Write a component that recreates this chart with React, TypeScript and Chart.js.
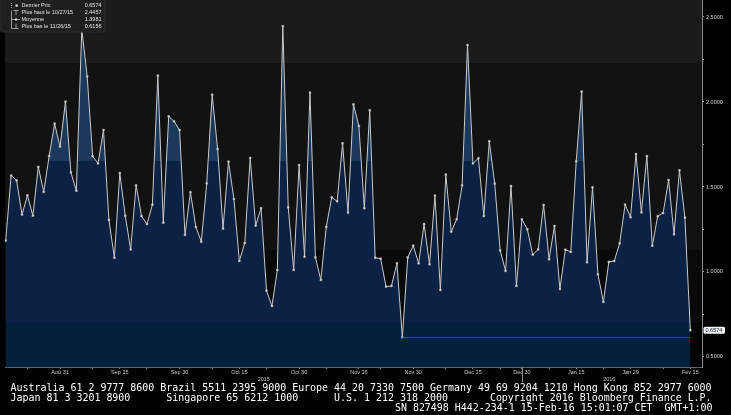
import React, { useEffect, useRef } from 'react';
import { Chart, registerables } from 'chart.js';

Chart.register(...registerables);

// ---------- data ----------
const startDate = '2015-08-17';
const endDate = '2016-02-15';
const holidays = ['2015-12-24', '2015-12-25', '2015-12-31', '2016-01-01'];

const values = [
  1.184, 1.567, 1.539, 1.337, 1.451, 1.331, 1.618, 1.471, 1.682, 1.873,
  1.737, 2.002, 1.586, 1.478, 2.427, 2.151, 1.681, 1.639, 1.835, 1.306,
  1.084, 1.582, 1.331, 1.133, 1.510, 1.328, 1.282, 1.396, 2.155, 1.290,
  1.916, 1.886, 1.835, 1.218, 1.469, 1.265, 1.178, 1.522, 2.043, 1.724,
  1.255, 1.649, 1.429, 1.065, 1.171, 1.671, 1.273, 1.375, 0.890, 0.800,
  1.012, 2.4457, 1.380, 1.012, 1.629, 1.090, 2.055, 1.086, 0.953, 1.265,
  1.439, 1.416, 1.757, 1.349, 1.986, 1.859, 1.375, 1.951, 1.084, 1.078,
  0.914, 0.918, 1.051, 0.6156, 1.086, 1.155, 1.051, 1.282, 1.045, 1.449,
  0.894, 1.573, 1.237, 1.310, 1.510, 2.335, 1.639, 1.669, 1.329, 1.769,
  1.520, 1.127, 1.006, 1.506, 0.918, 1.310, 1.251, 1.102, 1.133, 1.394,
  1.075, 1.271, 0.900, 1.131, 1.118, 1.651, 2.061, 1.057, 1.498, 0.986,
  0.824, 1.059, 1.065, 1.169, 1.396, 1.322, 1.694, 1.351, 1.682, 1.155,
  1.328, 1.347, 1.541, 1.222, 1.598, 1.320, 0.6574,
];

const majorTickDates = [
  '2015-08-31', '2015-09-15', '2015-09-30', '2015-10-15', '2015-10-30', '2015-11-16',
  '2015-11-30', '2015-12-15', '2015-12-30', '2016-01-15', '2016-01-29', '2016-02-15',
];
const majorTickLabels = [
  'Aoû 31', 'Sep 15', 'Sep 30', 'Oct 15', 'Oct 30', 'Nov 16',
  'Nov 30', 'Déc 15', 'Déc 30', 'Jan 15', 'Jan 29', 'Fév 15',
];
const minorTickDates = [
  '2015-08-22', '2015-09-08', '2015-09-22', '2015-10-08', '2015-10-22', '2015-11-08',
  '2015-11-22', '2015-12-08', '2015-12-22', '2016-01-08', '2016-01-22', '2016-02-08',
];
const yearLabels = ['2015', '2016'];
const yearBreakDate = '2015-12-30';

const yTicks = [0.5, 0.75, 1.0, 1.25, 1.5, 1.75, 2.0, 2.25, 2.5];

const legendNames = ['Dernier Prix', 'Plus haut le 10/27/15', 'Moyenne', 'Plus bas le 11/26/15'];
const legendValues = ['0.6574', '2.4457', '1.3981', '0.6156'];

const lowDate = '2015-11-26';
const lowValue = 0.6156;
const lastValue = 0.6574;

const bgBandEdges = [2.231, 1.129, 0.7];
const bgBandColors = ['#1b1b1b', '#121212', '#0a0a0a', '#030303'];
const fillBandEdges = [1.653, 0.7];
const fillBandColors = ['#1b395c', '#0b2244', '#05203a'];

const footerLines = [
  'Australia 61 2 9777 8600 Brazil 5511 2395 9000 Europe 44 20 7330 7500 Germany 49 69 9204 1210 Hong Kong 852 2977 6000',
  'Japan 81 3 3201 8900      Singapore 65 6212 1000      U.S. 1 212 318 2000       Copyright 2016 Bloomberg Finance L.P.',
  'SN 827498 H442-234-1 15-Feb-16 15:01:07 CET  GMT+1:00',
];

// ---------- helpers ----------
function tradingDays(): string[] {
  const out: string[] = [];
  const d = new Date(startDate + 'T00:00:00Z');
  const end = new Date(endDate + 'T00:00:00Z');
  while (d <= end) {
    const wd = d.getUTCDay();
    const iso = d.toISOString().slice(0, 10);
    if (wd !== 0 && wd !== 6 && !holidays.includes(iso)) out.push(iso);
    d.setUTCDate(d.getUTCDate() + 1);
  }
  return out;
}
const dates = tradingDays();
function indexOnOrBefore(iso: string): number {
  let idx = 0;
  dates.forEach((d, i) => {
    if (d <= iso) idx = i;
  });
  return idx;
}

const FONT = "'Liberation Sans', Arial, sans-serif";

export default function App() {
  const canvasRef = useRef<HTMLCanvasElement | null>(null);

  useEffect(() => {
    document.body.style.margin = '0';
    document.body.style.background = '#000';
    const canvas = canvasRef.current;
    if (!canvas) return;

    const majorIdx = majorTickDates.map(indexOnOrBefore);
    const minorIdx = minorTickDates.map(indexOnOrBefore);
    const labelMap = new Map<number, string>();
    majorIdx.forEach((v, i) => labelMap.set(v, majorTickLabels[i]));
    const lowIdx = indexOnOrBefore(lowDate);
    const lastIdx = values.length - 1;
    const breakIdx = indexOnOrBefore(yearBreakDate);

    const points = values.map((v, i) => ({ x: i, y: v }));

    const bandGradient = (chart: any) => {
      const { ctx, chartArea, scales } = chart;
      const g = ctx.createLinearGradient(0, chartArea.top, 0, chartArea.bottom);
      const h = chartArea.bottom - chartArea.top;
      let prev = 0;
      fillBandColors.forEach((c, i) => {
        const next =
          i < fillBandEdges.length
            ? Math.min(1, Math.max(0, (scales.y.getPixelForValue(fillBandEdges[i]) - chartArea.top) / h))
            : 1;
        g.addColorStop(prev, c);
        g.addColorStop(next, c);
        prev = next;
      });
      return g;
    };

    const decorPlugin = {
      id: 'decor',
      beforeDraw(chart: any) {
        const { ctx, chartArea, scales } = chart;
        ctx.save();
        let top = 0;
        bgBandColors.forEach((c, i) => {
          const bottom = i < bgBandEdges.length ? Math.round(scales.y.getPixelForValue(bgBandEdges[i])) : chartArea.bottom;
          ctx.fillStyle = c;
          ctx.fillRect(chartArea.left, top, chartArea.right - chartArea.left, bottom - top);
          top = bottom;
        });
        ctx.restore();
      },
      afterDatasetsDraw(chart: any) {
        const { ctx, scales } = chart;
        const x = scales.x, y = scales.y;
        ctx.save();
        const yl = Math.round(y.getPixelForValue(lowValue)) + 0.5;
        ctx.strokeStyle = '#a41d1d';
        ctx.lineWidth = 1;
        ctx.beginPath();
        ctx.moveTo(x.getPixelForValue(lowIdx), yl);
        ctx.lineTo(x.getPixelForValue(lastIdx), yl);
        ctx.stroke();
        ctx.restore();
      },
      afterDraw(chart: any) {
        const { ctx, chartArea, scales } = chart;
        const x = scales.x, y = scales.y;
        ctx.save();
        // year break tick
        const xb = Math.round(x.getPixelForValue(breakIdx)) + 0.5;
        ctx.strokeStyle = '#8a8a8a';
        ctx.lineWidth = 1;
        ctx.beginPath();
        ctx.moveTo(xb, chartArea.bottom);
        ctx.lineTo(xb, chartArea.bottom + 15);
        ctx.stroke();
        // year labels
        ctx.fillStyle = '#c8c8c8';
        ctx.font = `5.5px ${FONT}`;
        ctx.textAlign = 'center';
        ctx.textBaseline = 'middle';
        ctx.fillText(yearLabels[0], (chartArea.left + xb) / 2, chartArea.bottom + 12);
        ctx.fillText(yearLabels[1], (xb + chartArea.right - 6) / 2, chartArea.bottom + 12);

        // last value box
        const yv = y.getPixelForValue(lastValue);
        ctx.fillStyle = '#f4f4f4';
        ctx.beginPath();
        (ctx as any).roundRect(chartArea.right + 1.5, yv - 3.5, 21.5, 7, 1.5);
        ctx.fill();
        ctx.fillStyle = '#101828';
        ctx.textAlign = 'left';
        ctx.fillText(legendValues[0], chartArea.right + 3.5, yv + 0.3);

        // legend box
        ctx.fillStyle = '#1f1f1f';
        ctx.beginPath();
        (ctx as any).roundRect(0, -4, 105, 36, 3);
        ctx.fill();
        ctx.strokeStyle = '#2c2c2c';
        ctx.stroke();
        const rows = [5.5, 12.5, 19.5, 26.5];
        ctx.font = `5.5px ${FONT}`;
        ctx.textBaseline = 'middle';
        rows.forEach((ry, i) => {
          ctx.fillStyle = '#e2e2e2';
          ctx.textAlign = 'left';
          ctx.fillText(legendNames[i], 21.5, ry);
          ctx.textAlign = 'right';
          ctx.fillText(legendValues[i], 101.5, ry);
        });
        // icons
        ctx.strokeStyle = '#bdbdbd';
        ctx.fillStyle = '#e8e8e8';
        ctx.lineWidth = 0.8;
        ctx.setLineDash([1, 1]);
        ctx.beginPath();
        ctx.moveTo(11.5, 3);
        ctx.lineTo(11.5, 8);
        ctx.stroke();
        ctx.setLineDash([]);
        ctx.fillRect(15.5, 4.5, 2.2, 2.2);
        ctx.beginPath();
        ctx.moveTo(13.5, 10.5); ctx.lineTo(18.5, 10.5);
        ctx.moveTo(16, 10.5); ctx.lineTo(16, 15);
        ctx.moveTo(12, 19.5); ctx.lineTo(20, 19.5);
        ctx.moveTo(11.5, 10.5); ctx.lineTo(11.5, 28.5); ctx.lineTo(13.5, 28.5);
        ctx.moveTo(16, 23.5); ctx.lineTo(16, 28.5);
        ctx.moveTo(13.5, 28.5); ctx.lineTo(18.5, 28.5);
        ctx.stroke();
        ctx.fillRect(15, 18.5, 2, 2);
        ctx.restore();
      },
    };

    const chart = new Chart(canvas, {
      type: 'line',
      data: {
        datasets: [
          {
            data: points,
            borderColor: '#c9c9c9',
            borderWidth: 1,
            tension: 0,
            fill: 'start',
            backgroundColor: (c: any) => (c.chart.chartArea ? bandGradient(c.chart) : fillBandColors[1]),
            pointStyle: 'rect',
            pointRadius: 1.3,
            pointBackgroundColor: '#f2f2f2',
            pointBorderColor: '#9a9a9a',
            pointBorderWidth: 0.5,
          },
        ],
      },
      options: {
        animation: false,
        responsive: true,
        maintainAspectRatio: false,
        layout: { autoPadding: false, padding: { left: 5, top: 0, right: 0, bottom: 0 } },
        plugins: { legend: { display: false }, tooltip: { enabled: false } },
        scales: {
          x: {
            type: 'linear',
            min: -0.129,
            max: 128.15,
            afterBuildTicks: (scale: any) => {
              scale.ticks = [...majorIdx, ...minorIdx].sort((a, b) => a - b).map((v) => ({ value: v }));
            },
            afterFit: (scale: any) => {
              scale.height = 18;
              scale.paddingLeft = 0;
              scale.paddingRight = 0;
              scale.paddingTop = 0;
              scale.paddingBottom = 0;
            },
            grid: { display: true, drawOnChartArea: false, drawTicks: true, tickLength: 2, color: '#8a8a8a' },
            border: { display: true, color: '#5a6472' },
            ticks: {
              autoSkip: false,
              maxRotation: 0,
              padding: 0,
              color: '#c8c8c8',
              font: { family: FONT, size: 5.5 },
              callback: (v: any) => labelMap.get(v) ?? '',
            },
          },
          y: {
            type: 'linear',
            position: 'right',
            min: 0.441,
            max: 2.6,
            afterBuildTicks: (scale: any) => {
              scale.ticks = yTicks.map((v) => ({ value: v }));
            },
            afterFit: (scale: any) => {
              scale.width = 29;
              scale.paddingTop = 0;
              scale.paddingBottom = 0;
              scale.paddingLeft = 0;
              scale.paddingRight = 0;
            },
            grid: { display: true, drawOnChartArea: false, drawTicks: true, tickLength: 2, color: '#9a9a9a' },
            border: { display: true, color: '#8a8a8a' },
            ticks: {
              padding: 2,
              color: '#d2d2d2',
              font: { family: FONT, size: 5.5 },
              callback: (v: any) => (Math.abs(v * 2 - Math.round(v * 2)) < 1e-6 ? Number(v).toFixed(4) : ''),
            },
          },
        },
      },
      plugins: [decorPlugin],
    } as any);

    return () => chart.destroy();
  }, []);

  return (
    <div style={{ position: 'relative', width: 731, height: 415, background: '#000', overflow: 'hidden' }}>
      <div style={{ position: 'absolute', left: 0, top: 0, width: 731, height: 385 }}>
        <canvas ref={canvasRef} />
      </div>
      <div
        style={{
          position: 'absolute',
          left: 10.5,
          top: 383,
          width: 702,
          fontFamily: "'DejaVu Sans Mono', monospace",
          fontSize: '9.96px',
          lineHeight: '10px',
          color: '#ffffff',
          whiteSpace: 'pre',
        }}
      >
        <div>{footerLines[0]}</div>
        <div>{footerLines[1]}</div>
        <div style={{ textAlign: 'right' }}>{footerLines[2]}</div>
      </div>
    </div>
  );
}
